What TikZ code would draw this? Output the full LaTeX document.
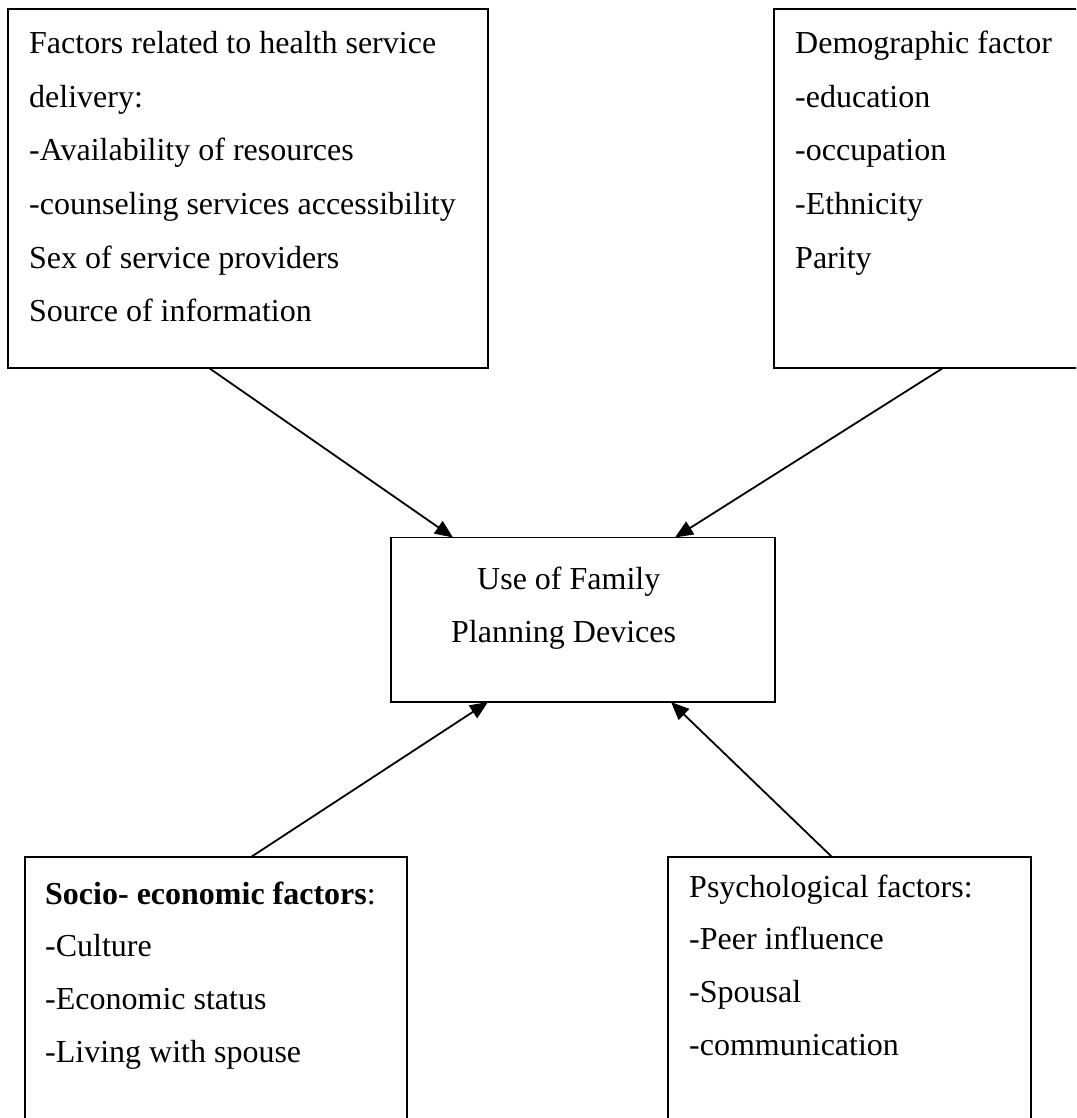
\documentclass[tikz,border=0pt]{standalone}
\usepackage{fontspec}
\setmainfont{Liberation Serif}
\usetikzlibrary{arrows.meta}
\begin{document}
\begin{tikzpicture}[x=1pt,y=-1pt,
  box/.style={draw, line width=1.8pt, rectangle, inner sep=0pt, outer sep=0pt, anchor=north west},
  txt/.style={inner sep=0pt, anchor=base west, font=\fontsize{32}{38}\selectfont},
  arr/.style={line width=1.8pt, -{Triangle[length=18pt,width=15pt]}}]
\useasboundingbox (0,0) rectangle (1076,1118);
\clip (0,0) rectangle (1076,1118);
\fill[white] (0,0) rectangle (1076,1118);
% boxes
\node[box, minimum width=480pt, minimum height=359pt] (tl) at (8,9) {};
\node[box, minimum width=320pt, minimum height=359pt] (tr) at (774,9) {};
\node[box, minimum width=384pt, minimum height=164.5pt] (use) at (391,537.5) {};
\node[box, minimum width=382pt, minimum height=280pt] (bl) at (25,857) {};
\node[box, minimum width=363pt, minimum height=280pt] (br) at (668,857) {};
% texts
\foreach \t [count=\i] in {Factors related to health service, delivery:, -Availability of resources, -counseling services accessibility, Sex of service providers, Source of information}
  \node[txt] (tlt\i) at (29,{54+53.5*(\i-1)}) {\t};
\foreach \t [count=\i] in {Demographic factor, -education, -occupation, -Ethnicity, Parity}
  \node[txt] (trt\i) at (795,{54+53.5*(\i-1)}) {\t};
\node[txt] (uset1) at (477,589) {Use of Family};
\node[txt] (uset2) at (451,642) {Planning Devices};
\foreach \t [count=\i] in {{\textbf{Socio- economic factors}:}, -Culture, -Economic status, -Living with spouse}
  \node[txt] (blt\i) at (45,{904+52.7*(\i-1)}) {\t};
\foreach \t [count=\i] in {Psychological factors:, -Peer influence, -Spousal, -communication}
  \node[txt] (brt\i) at (689,{897+52.7*(\i-1)}) {\t};
% connectors
\draw[arr] ([xshift=201pt]tl.south west) -- ([xshift=62pt]use.north west);
\draw[arr] ([xshift=169pt]tr.south west) -- ([xshift=284pt]use.north west);
\draw[arr] ([xshift=226pt]bl.north west) -- ([xshift=97pt]use.south west);
\draw[arr] ([xshift=164pt]br.north west) -- ([xshift=280pt]use.south west);
\end{tikzpicture}
\end{document}
